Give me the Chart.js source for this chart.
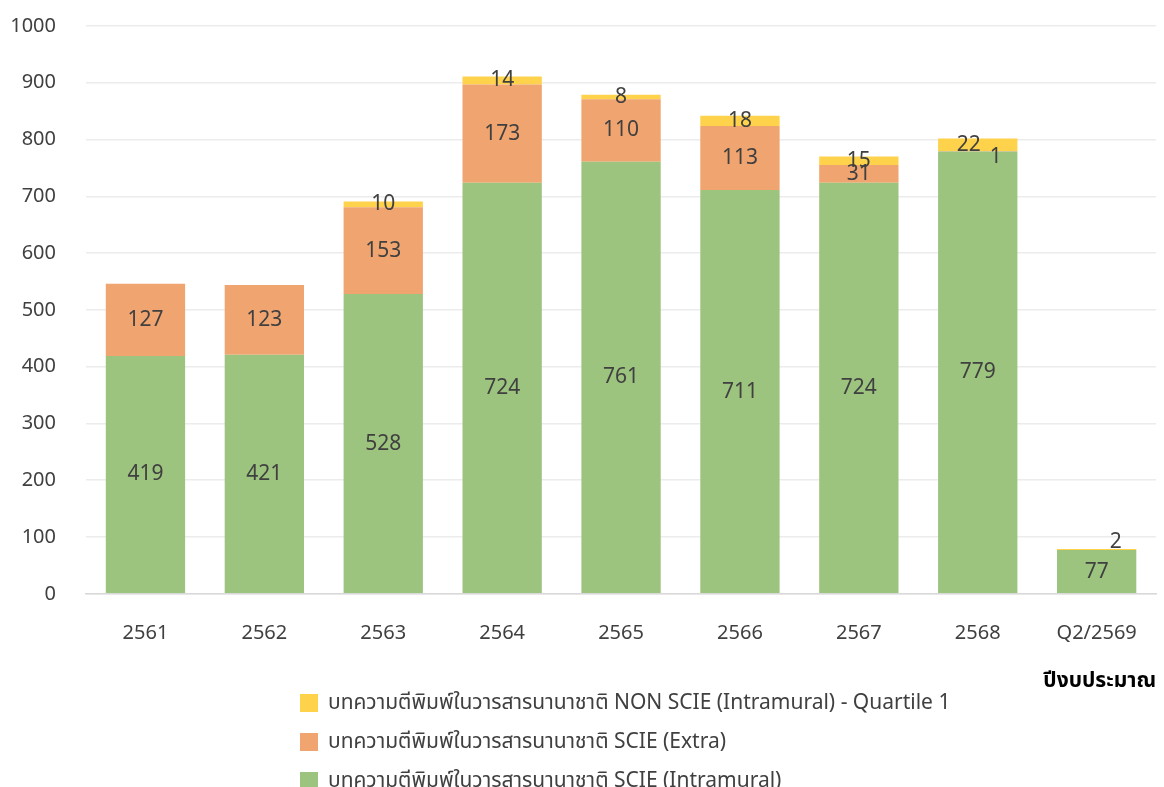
<!DOCTYPE html>
<html>
<head>
<meta charset="utf-8">
<script src="https://cdn.jsdelivr.net/npm/chart.js@4.4.0/dist/chart.umd.min.js"></script>
<style>
  html,body{margin:0;padding:0;background:#fff;overflow:hidden;}
  #wrap{position:relative;width:1164px;height:787px;overflow:hidden;}
  #chart{position:absolute;left:0;top:-16px;}
  #legend{position:absolute;left:300px;top:683px;font-family:'Noto Sans','Noto Sans Thai',Tahoma,sans-serif;font-size:21px;color:#404040;}
  #legend div{height:39px;display:flex;align-items:center;}
  #legend span.box{display:inline-block;width:18px;height:18px;margin-right:10px;}
</style>
</head>
<body>
<div id="wrap">
  <canvas id="chart" width="1164" height="803"></canvas>
  <div id="legend"></div>
</div>
<script>
// data
var years = ['2561','2562','2563','2564','2565','2566','2567','2568','Q2/2569'];
var scieIntra = [419,421,528,724,761,711,724,779,77];
var scieExtra = [127,123,153,173,110,113,31,1,0];
var nonScieQ1 = [0,0,10,14,8,18,15,22,2];
var seriesNames = [
    'บทความตีพิมพ์ในวารสารนานาชาติ SCIE (Intramural)',
    'บทความตีพิมพ์ในวารสารนานาชาติ SCIE (Extra)',
    'บทความตีพิมพ์ในวารสารนานาชาติ NON SCIE (Intramural) - Quartile 1'
];
var yTicks = [0,100,200,300,400,500,600,700,800,900,1000];
var xTitle = 'ปีงบประมาณ';

var colors = ['#9cc47f','#f0a46f','#ffd24c'];
var FONT = "'Noto Sans','Noto Sans Thai',Tahoma,sans-serif";

// small nudges for labels that excel pushes aside (dataset:index -> [dx,dy])
var labelNudge = {'1:7':[18,6],'2:7':[-9,0],'2:8':[19,-7]};

var barLabels = {
    id:'barLabels',
    afterDatasetsDraw(chart){
        var ctx = chart.ctx;
        ctx.save();
        ctx.font = '21px ' + FONT;
        ctx.fillStyle = '#404040';
        ctx.textAlign = 'center';
        ctx.textBaseline = 'middle';
        chart.data.datasets.forEach((ds,di)=>{
            chart.getDatasetMeta(di).data.forEach((bar,i)=>{
                var v = ds.data[i];
                if(!v) return;
                var n = labelNudge[di+':'+i] || [0,0];
                ctx.fillText(String(v), bar.x + n[0], (bar.y + bar.base)/2 + n[1]);
            });
        });
        ctx.restore();
    }
};

var ctx = document.getElementById('chart').getContext('2d');
var chart = new Chart(ctx,{
    type:'bar',
    data:{
        labels:years,
        datasets:[scieIntra,scieExtra,nonScieQ1].map((d,i)=>({
            label:seriesNames[i],
            data:d,
            backgroundColor:colors[i],
            barPercentage:0.667,
            categoryPercentage:1
        }))
    },
    options:{
        responsive:false,
        animation:false,
        layout:{padding:{left:10,right:4,top:0,bottom:93}},
        plugins:{legend:{display:false},tooltip:{enabled:false}},
        scales:{
            x:{
                stacked:true,
                grid:{display:false,drawTicks:false},
                border:{color:'#d9d9d9',width:1.5},
                ticks:{font:{family:FONT,size:20},color:'#404040',padding:27},
                title:{display:true,text:xTitle,align:'end',color:'#000',
                    font:{family:FONT,size:21,weight:'bold'},padding:{top:-3,bottom:0}}
            },
            y:{
                stacked:true,
                min:0,max:1000,
                afterBuildTicks(axis){ axis.ticks = yTicks.map(v=>({value:v})); },
                afterFit(axis){ axis.width = 76; },
                grid:{color:'#ececec',lineWidth:1.5,drawTicks:false},
                border:{display:false},
                ticks:{font:{family:FONT,size:20},color:'#404040',padding:30,
                    callback:v=>String(v)}
            }
        }
    },
    plugins:[barLabels]
});

// legend, reverse order like the original
var leg = document.getElementById('legend');
seriesNames.slice().reverse().forEach((name,k)=>{
    var i = seriesNames.length-1-k;
    var row = document.createElement('div');
    var box = document.createElement('span');
    box.className = 'box';
    box.style.background = colors[i];
    row.appendChild(box);
    row.appendChild(document.createTextNode(name));
    leg.appendChild(row);
});
</script>
</body>
</html>
